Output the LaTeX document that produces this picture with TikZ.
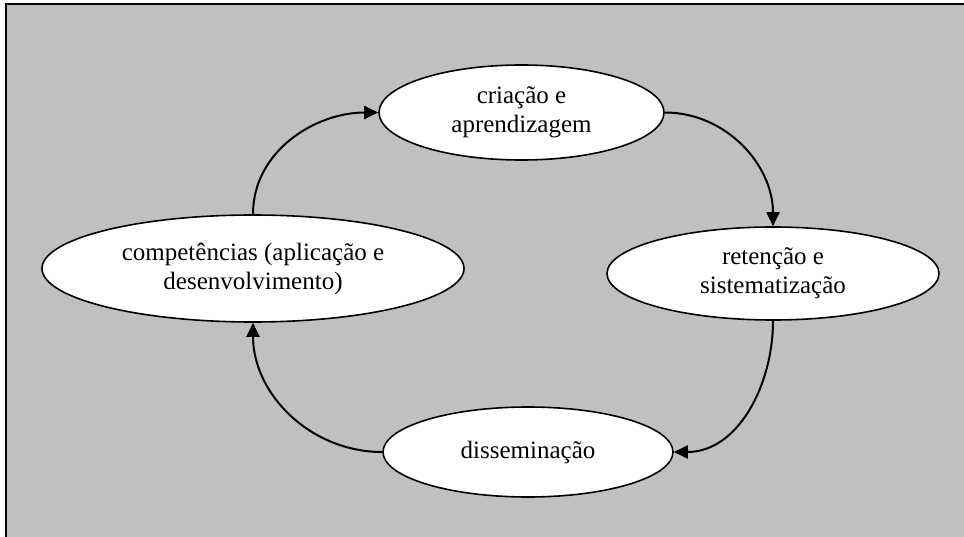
\documentclass[tikz,border=0pt]{standalone}
\usepackage{fontspec}
\setmainfont{Liberation Serif}
\usetikzlibrary{shapes.geometric,arrows.meta}
\definecolor{bggray}{HTML}{C0C0C0}
\begin{document}
\begin{tikzpicture}[x=1pt,y=-1pt,
  oval/.style={ellipse,draw=black,line width=1.6pt,fill=white,inner sep=0pt,
    align=center,font=\fontsize{25}{29}\selectfont},
  conn/.style={line width=2pt,-{Triangle[length=14pt,width=13pt]}}]
\useasboundingbox (0,0) rectangle (964,537);
\fill[white] (0,0) rectangle (964,537);
\fill[bggray] (6,4) rectangle (964,537);
\draw[line width=2pt,black] (6,537) -- (6,4) -- (964,4);
\node[oval,minimum width=285pt,minimum height=95pt] (t) at (521.5,112.5) {criação e\\aprendizagem};
\node[oval,minimum width=332pt,minimum height=93pt] (r) at (773,273.5) {retenção e\\sistematização};
\node[oval,minimum width=290pt,minimum height=90pt] (b) at (528,452) {disseminação};
\node[oval,minimum width=422pt,minimum height=107pt] (l) at (253,268.5) {competências (aplicação e\\desenvolvimento)};
\draw[conn] (t.east) to[out=0,in=90] (r.north);
\draw[conn] (r.south) to[out=-90,in=0] (b.east);
\draw[conn] (b.west) to[out=180,in=-90] (l.south);
\draw[conn] (l.north) to[out=90,in=180] (t.west);
\end{tikzpicture}
\end{document}
